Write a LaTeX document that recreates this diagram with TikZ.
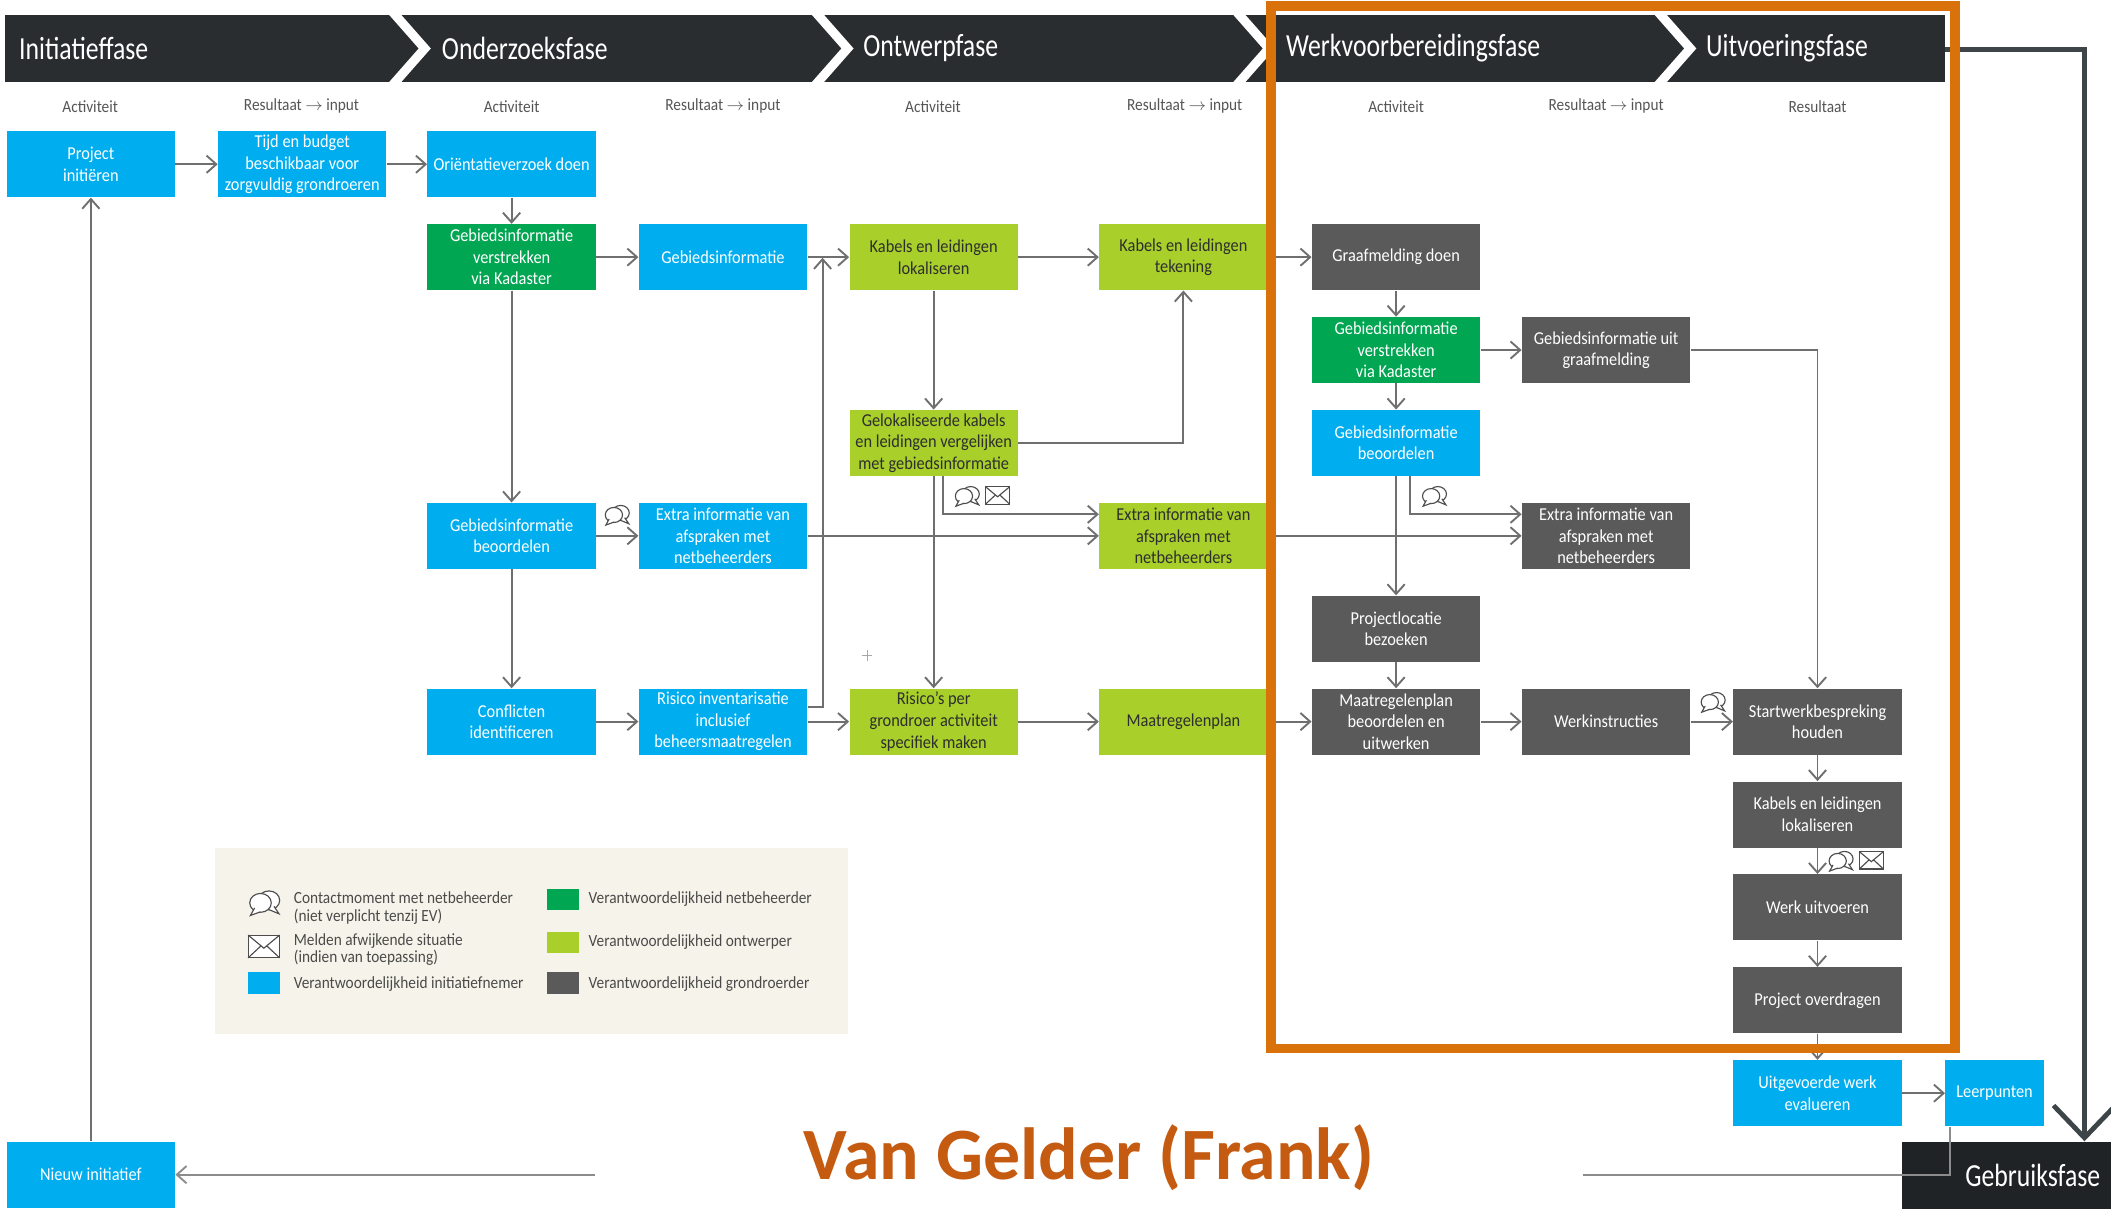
\documentclass[tikz,border=0pt]{standalone}
\usepackage{fontspec}
\setmainfont{Carlito}
\newfontfamily\boxfont[FakeStretch=0.9]{Carlito}
\newfontfamily\phasefont[FakeStretch=0.8]{Carlito}
\usepackage{xcolor}
\usetikzlibrary{arrows.meta}
\definecolor{initcol}{HTML}{00AEEF}
\definecolor{netcol}{HTML}{00A651}
\definecolor{ontwcol}{HTML}{A8CF2A}
\definecolor{ontwtext}{HTML}{2E2E2E}
\definecolor{grondcol}{HTML}{5A5A5A}
\definecolor{balkcol}{HTML}{2A2D2F}
\definecolor{gebruikcol}{HTML}{1F2325}
\definecolor{flowcol}{HTML}{6F6F6F}
\definecolor{terugcol}{HTML}{8C8C8C}
\definecolor{dikcol}{HTML}{3D4548}
\definecolor{kadercol}{HTML}{D9720B}
\definecolor{naamcol}{HTML}{C55A11}
\definecolor{legendbg}{HTML}{F6F4EA}
\definecolor{labelcol}{HTML}{555555}
\definecolor{legendtext}{HTML}{4A4A4A}
\definecolor{icongray}{HTML}{4D4D4D}

\begin{document}
\begin{tikzpicture}[x=0.025cm, y=-0.025cm,
		blok/.style = {minimum width=3.125cm, minimum height=1.225cm, inner sep=1pt, align=center, text=white, font=\boxfont\fontsize{9.6}{11.4}\selectfont},
		initbox/.style = {blok, fill=initcol},
		netbox/.style = {blok, fill=netcol},
		ontwbox/.style = {blok, fill=ontwcol, text=ontwtext},
		grondbox/.style = {blok, fill=grondcol},
		fase/.style = {anchor=west, inner sep=0pt, text=white, font=\phasefont\fontsize{17}{20}\selectfont},
		kolom/.style = {inner sep=0pt, text=labelcol, font=\boxfont\fontsize{9}{10}\selectfont},
		legtekst/.style = {anchor=west, align=left, inner sep=0pt, text=legendtext, font=\boxfont\fontsize{9}{9.2}\selectfont},
		swatch/.style = {minimum width=0.6cm, minimum height=0.4cm, inner sep=0pt},
		flow/.style = {draw=flowcol, line width=1pt, -{Straight Barb[length=1.8mm, width=3.2mm]}},
		terug/.style = {draw=terugcol, line width=1pt, -{Straight Barb[length=1.8mm, width=3.2mm]}},
		dik/.style = {draw=dikcol, line width=0.09cm, -{Straight Barb[length=0.6cm, width=1.15cm]}},
		kader/.style = {draw=kadercol, line width=0.175cm},
		naam/.style = {fill=white, minimum width=18.35cm, text=naamcol, font=\bfseries\fontsize{39}{44}\selectfont},
		gebruikbox/.style = {fill=gebruikcol, minimum width=3.875cm, minimum height=1.25cm, text width=3.475cm, inner xsep=0.2cm, align=right, text=white, font=\phasefont\fontsize{17}{20}\selectfont},
		bubble/.pic = {
			\path[draw=icongray, line width=0.6pt, fill=white, pic actions] (3,-1) ellipse[x radius=0.16cm, y radius=0.14cm];
			\path[draw=icongray, line width=0.6pt, fill=white, pic actions] (6,2.5) -- (9,7) -- (3,4.5);
			\path[draw=icongray, line width=0.6pt, fill=white, pic actions] (-2,0.5) ellipse[x radius=0.16cm, y radius=0.14cm];
			\path[draw=icongray, line width=0.6pt, fill=white, pic actions] (-5.5,3.5) -- (-8,8) -- (-2,5.8);
		},
		envelope/.pic = {
			\path[draw=icongray, line width=0.6pt, fill=white, pic actions] (-9,-6.5) rectangle (9,6.5);
			\draw[icongray, line width=0.6pt] (-9,-6.5) -- (0,1) -- (9,-6.5) (-9,6.5) -- (-2,0) (9,6.5) -- (2,0);
		}]
			\useasboundingbox (0,0) rectangle (1568,902);

			\fill[balkcol] (4,11) rectangle (1445,61);
			\foreach \x in {289,603,916,1229}
				\fill[white] (\x,11) -- (\x+9,11) -- (\x+31,36) -- (\x+9,61) -- (\x,61) -- (\x+22,36) -- cycle;
			\foreach \x/\t [count=\i] in {14/Initiatieffase, 328/Onderzoeksfase, 641/Ontwerpfase, 955/Werkvoorbereidingsfase, 1267/Uitvoeringsfase}
				\node[fase] (fase\i) at (\x,36) {\t};
			\foreach \x/\t [count=\i] in {67/Activiteit, 224/{Resultaat $\rightarrow$ input}, 380/Activiteit, 537/{Resultaat $\rightarrow$ input}, 693/Activiteit, 880/{Resultaat $\rightarrow$ input}, 1037/Activiteit, 1193/{Resultaat $\rightarrow$ input}, 1350/Resultaat}
				\node[kolom] (kol\i) at (\x,79) {\t};

			\fill[legendbg] (160,630) rectangle (630,768);
			\pic[fill=legendbg, scale=1.25] (legbubble) at (196,670) {bubble};
			\pic[fill=legendbg, scale=1.3] (legenvelope) at (196,703) {envelope};
			\node[swatch, fill=initcol] (swinit) at (196,730) {};
			\node[swatch, fill=netcol] (swnet) at (418,668) {};
			\node[swatch, fill=ontwcol] (swontw) at (418,700) {};
			\node[swatch, fill=grondcol] (swgrond) at (418,730) {};
			\node[legtekst] (legcontact) at (218,674.5) {Contactmoment met netbeheerder\\(niet verplicht tenzij EV)};
			\node[legtekst] (legmelden) at (218,705.5) {Melden afwijkende situatie\\(indien van toepassing)};
			\node[legtekst] (leginit) at (218,731) {Verantwoordelijkheid initiatiefnemer};
			\node[legtekst] (legnet) at (437,668) {Verantwoordelijkheid netbeheerder};
			\node[legtekst] (legontw) at (437,700) {Verantwoordelijkheid ontwerper};
			\node[legtekst] (leggrond) at (437,731) {Verantwoordelijkheid grondroerder};

			\node[initbox] (projinit) at (67.5,122) {Project\\initiëren};
			\node[initbox] (tijd) at (224.5,122) {Tijd en budget\\beschikbaar voor\\zorgvuldig grondroeren};
			\node[initbox] (orient) at (380,122) {Oriëntatieverzoek doen};
			\node[netbox] (kadA) at (380,191) {Gebiedsinformatie\\verstrekken\\via Kadaster};
			\node[initbox] (gebinfo) at (537,191) {Gebiedsinformatie};
			\node[ontwbox] (kablok) at (693.5,191) {Kabels en leidingen\\lokaliseren};
			\node[ontwbox] (kabtek) at (879,191) {Kabels en leidingen\\tekening};
			\node[grondbox] (graaf) at (1037,191) {Graafmelding doen};
			\node[netbox] (kadB) at (1037,260) {Gebiedsinformatie\\verstrekken\\via Kadaster};
			\node[grondbox] (graafinfo) at (1193,260) {Gebiedsinformatie uit\\graafmelding};
			\node[ontwbox] (gelok) at (693.5,329) {Gelokaliseerde kabels\\en leidingen vergelijken\\met gebiedsinformatie};
			\node[initbox] (beoorB) at (1037,329) {Gebiedsinformatie\\beoordelen};
			\node[initbox] (beoorA) at (380,398) {Gebiedsinformatie\\beoordelen};
			\node[initbox] (extraA) at (537,398) {Extra informatie van\\afspraken met\\netbeheerders};
			\node[ontwbox] (extraB) at (879,398) {Extra informatie van\\afspraken met\\netbeheerders};
			\node[grondbox] (extraC) at (1193,398) {Extra informatie van\\afspraken met\\netbeheerders};
			\node[grondbox] (locatie) at (1037,467) {Projectlocatie\\bezoeken};
			\node[initbox] (conflict) at (380,536) {Conflicten\\identificeren};
			\node[initbox] (risinv) at (537,536) {Risico inventarisatie\\inclusief\\beheersmaatregelen};
			\node[ontwbox] (risper) at (693.5,536) {Risico’s per\\grondroer activiteit\\specifiek maken};
			\node[ontwbox] (maatplan) at (879,536) {Maatregelenplan};
			\node[grondbox] (maatbeoor) at (1037,536) {Maatregelenplan\\beoordelen en\\uitwerken};
			\node[grondbox] (werkinstr) at (1193,536) {Werkinstructies};
			\node[grondbox] (startwerk) at (1350,536) {Startwerkbespreking\\houden};
			\node[grondbox] (kablokB) at (1350,605) {Kabels en leidingen\\lokaliseren};
			\node[grondbox] (werkuit) at (1350,674) {Werk uitvoeren};
			\node[grondbox] (overdr) at (1350,743) {Project overdragen};
			\node[initbox] (evalueer) at (1350,812) {Uitgevoerde werk\\evalueren};
			\node[initbox, minimum width=1.825cm] (leer) at (1481.5,812) {Leerpunten};
			\node[initbox] (nieuw) at (67.5,872.5) {Nieuw initiatief};
			\node[gebruikbox] (gebruik) at (1490.5,873) {Gebruiksfase};
			\coordinate (kabjoin) at (611,191.5);
			\coordinate (balkeind) at (1445,36.5);

			\draw[flow] (projinit.east) to (tijd.west);
			\draw[flow] (tijd.east) to (orient.west);
			\draw[flow] (orient.south) to (kadA.north);
			\draw[flow] (kadA.east) to (gebinfo.west);
			\draw[flow] (gebinfo.east) to (kablok.west);
			\draw[flow] (kadA.south) to (beoorA.north);
			\draw[flow] (beoorA.south) to (conflict.north);
			\draw[flow] (beoorA.east) to (extraA.west);
			\draw[flow] (conflict.east) to (risinv.west);
			\draw[flow] (risinv.east) to (risper.west);
			\draw[flow] ([yshift=0.275cm]risinv.east) -| (kabjoin);
			\draw[flow] (kablok.east) to (kabtek.west);
			\draw[flow] (kablok.south) to (gelok.north);
			\draw[flow] (gelok.east) -| (kabtek.south);
			\draw[flow] (gelok.south) to (risper.north);
			\draw[flow] ([xshift=0.175cm]gelok.south) |- ([yshift=0.4cm]extraB.west);
			\draw[flow] (extraA.east) to (extraB.west);
			\draw[flow] (risper.east) to (maatplan.west);
			\draw[flow] (maatplan.east) to (maatbeoor.west);
			\draw[flow] (kabtek.east) to (graaf.west);
			\draw[flow] (extraB.east) to (extraC.west);
			\draw[flow] (graaf.south) to (kadB.north);
			\draw[flow] (kadB.south) to (beoorB.north);
			\draw[flow] (kadB.east) to (graafinfo.west);
			\draw[flow] (graafinfo.east) -| (startwerk.north);
			\draw[flow] (beoorB.south) to (locatie.north);
			\draw[flow] ([xshift=0.25cm]beoorB.south) |- ([yshift=0.4cm]extraC.west);
			\draw[flow] (locatie.south) to (maatbeoor.north);
			\draw[flow] (maatbeoor.east) to (werkinstr.west);
			\draw[flow] (werkinstr.east) to (startwerk.west);
			\draw[flow] (startwerk.south) to (kablokB.north);
			\draw[flow] (kablokB.south) to (werkuit.north);
			\draw[flow] (werkuit.south) to (overdr.north);
			\draw[flow] (overdr.south) to (evalueer.north);
			\draw[flow] (evalueer.east) to (leer.west);
			\draw[flow] (nieuw.north) to (projinit.south);
			\draw[terug] ([xshift=0.1cm]leer.south west) |- (nieuw.east);
			\draw[dik] (balkeind) -| ([xshift=-0.5cm]gebruik.north east);

			\pic (bubA) at (458,382) {bubble};
			\pic (bubB) at (718,368) {bubble};
			\pic (envB) at (741,368) {envelope};
			\pic (bubC) at (1065,368) {bubble};
			\pic (bubD) at (1272,521) {bubble};
			\pic (bubE) at (1367,639) {bubble};
			\pic (envE) at (1390,639) {envelope};
			\draw[flowcol!60, line width=0.4pt] (640,487) -- (648,487) (644,483) -- (644,491);

			\node[naam] (vangelder) at (809,860) {Van Gelder (Frank)};
			\draw[kader] (944,4.5) rectangle (1452,779);
		\end{tikzpicture}
\end{document}
